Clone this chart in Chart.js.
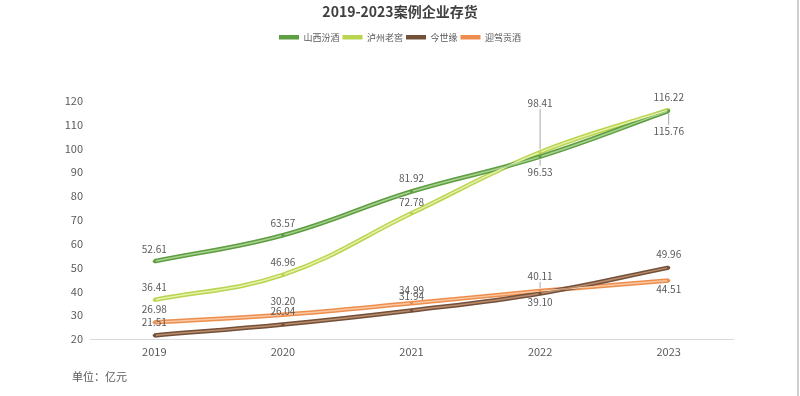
<!DOCTYPE html>
<html lang="zh-CN">
<head>
    <meta charset="UTF-8">
    <title>2019-2023案例企业存货</title>
    <script src="https://cdn.jsdelivr.net/npm/chart.js@4.4.1/dist/chart.umd.min.js"></script>
    <style>
        html, body { margin: 0; padding: 0; background: #ffffff; }
        .wrap {
            position: relative;
            width: 800px;
            height: 396px;
            overflow: hidden;
        }
        .edge {
            position: absolute;
            right: 1px;
            top: 0;
            width: 2px;
            height: 396px;
            background: #cfcfcf;
        }
        .unit {
            position: absolute;
            left: 72px;
            top: 368px;
            font-family: "Noto Sans CJK SC", sans-serif;
            font-size: 11px;
            color: #595959;
        }
    </style>
</head>
<body>
    <div class="wrap">
        <canvas id="stockChart" width="800" height="396"></canvas>
        <div class="unit">单位：亿元</div>
        <div class="edge"></div>
    </div>

    <script>
        // 数据
        const years = ['2019', '2020', '2021', '2022', '2023'];
        const companies = ['山西汾酒', '泸州老窖', '今世缘', '迎驾贡酒'];
        const fenjiu = [52.61, 63.57, 81.92, 96.53, 115.76];
        const luzhou = [36.41, 46.96, 72.78, 98.41, 116.22];
        const jinshiyuan = [21.51, 26.04, 31.94, 39.10, 49.96];
        const yingjia = [26.98, 30.20, 34.99, 40.11, 44.51];
        const yTicks = [20, 30, 40, 50, 60, 70, 80, 90, 100, 110, 120];

        const seriesValues = [fenjiu, luzhou, jinshiyuan, yingjia];
        const outerColors = ['#5e9e42', '#b9d451', '#72503a', '#ee8e4e'];
        const innerColors = ['#a9d18f', '#e6f2a8', '#bc8d6d', '#f9c8a2'];
        // 数据标签相对点的偏移（负数在上方）
        const labelShift = [
            [-12, -12, -13, 15, 20],
            [-13, -13, -11, -49, -13],
            [-13, -13, -14, 9, -13],
            [-13, -14, -13, -15, 9]
        ];

        const FONT = '"Noto Sans CJK SC", "Noto Sans", sans-serif';

        const datasets = [];
        seriesValues.forEach((vals, i) => {
            datasets.push({
                label: companies[i],
                data: vals,
                borderColor: outerColors[i],
                backgroundColor: outerColors[i],
                borderWidth: 4.5,
                tension: 0.4,
                pointRadius: 0,
                order: 2
            });
        });
        seriesValues.forEach((vals, i) => {
            datasets.push({
                label: '',
                data: vals,
                borderColor: innerColors[i],
                borderWidth: 1.5,
                tension: 0.4,
                pointRadius: 1.6,
                pointBorderWidth: 0,
                pointBackgroundColor: outerColors[i],
                order: 1
            });
        });

        // 图例下方留白
        const legendSpace = {
            id: 'legendSpace',
            beforeInit(chart) {
                const fit = chart.legend.fit;
                chart.legend.fit = function () {
                    fit.bind(chart.legend)();
                    this.height = 71;
                };
            }
        };

        // 数据标签
        const valueLabels = {
            id: 'valueLabels',
            afterDatasetsDraw(chart) {
                const ctx = chart.ctx;
                ctx.save();
                ctx.font = '10px ' + FONT;
                ctx.fillStyle = '#595959';
                ctx.textAlign = 'center';
                ctx.textBaseline = 'middle';
                seriesValues.forEach((vals, i) => {
                    const meta = chart.getDatasetMeta(i);
                    meta.data.forEach((pt, j) => {
                        const dy = labelShift[i][j];
                        const ty = pt.y + dy;
                        if (Math.abs(dy) > 14) {
                            ctx.strokeStyle = '#a6a6a6';
                            ctx.lineWidth = 1;
                            ctx.beginPath();
                            const dir = dy > 0 ? 1 : -1;
                            ctx.moveTo(pt.x, pt.y + dir * 3);
                            ctx.lineTo(pt.x, ty - dir * 6);
                            ctx.stroke();
                        }
                        ctx.fillText(vals[j].toFixed(2), pt.x, ty);
                    });
                });
                ctx.restore();
            }
        };

        new Chart(document.getElementById('stockChart'), {
            type: 'line',
            data: { labels: years, datasets: datasets },
            options: {
                responsive: false,
                animation: false,
                layout: { padding: 0 },
                plugins: {
                    title: {
                        display: true,
                        text: '2019-2023案例企业存货',
                        color: '#404040',
                        font: { family: FONT, size: 14, weight: 'bold' },
                        padding: { top: 3, bottom: 10 }
                    },
                    legend: {
                        display: true,
                        labels: {
                            filter: (item) => item.datasetIndex < 4,
                            usePointStyle: true,
                            pointStyle: 'line',
                            pointStyleWidth: 20,
                            padding: 3,
                            color: '#595959',
                            font: { family: FONT, size: 9 }
                        }
                    },
                    tooltip: { enabled: false }
                },
                scales: {
                    x: {
                        offset: true,
                        grid: { display: false, drawTicks: false },
                        border: { display: true, color: '#d9d9d9', width: 1 },
                        ticks: { color: '#595959', padding: 6, font: { family: FONT, size: 11 } },
                        afterFit: (scale) => { scale.height = 57; }
                    },
                    y: {
                        min: 20,
                        max: 120,
                        grid: { display: false, drawTicks: false },
                        border: { display: false },
                        afterBuildTicks: (scale) => { scale.ticks = yTicks.map(v => ({ value: v })); },
                        ticks: { color: '#595959', padding: 7, font: { family: FONT, size: 11 } },
                        afterFit: (scale) => { scale.width = 90; }
                    },
                    // 右侧留白，使标题与图例居中于整张图
                    yRight: {
                        position: 'right',
                        min: 20,
                        max: 120,
                        grid: { display: false, drawTicks: false },
                        border: { display: false },
                        ticks: { display: false },
                        afterFit: (scale) => { scale.width = 67; }
                    }
                }
            },
            plugins: [legendSpace, valueLabels]
        });
    </script>
</body>
</html>
